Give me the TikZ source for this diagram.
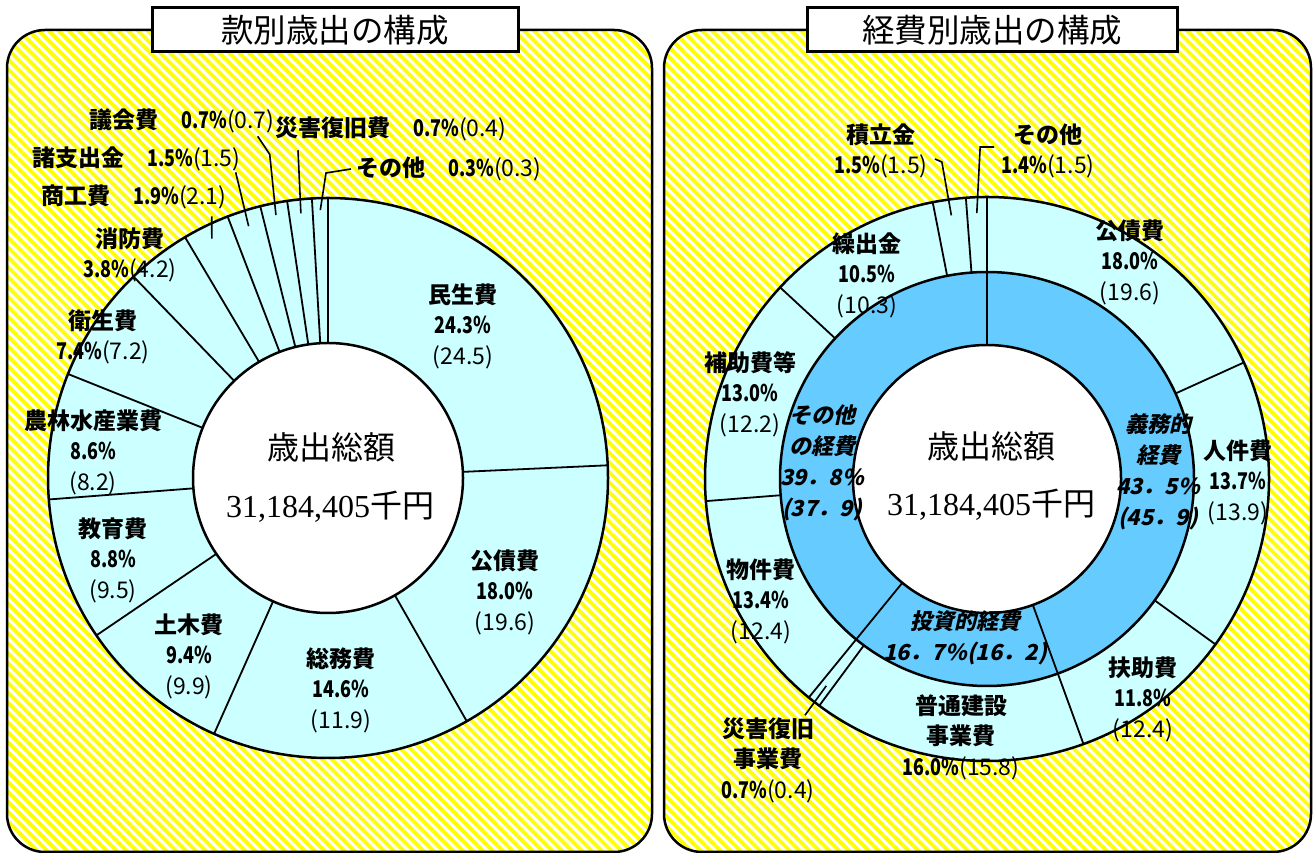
\documentclass[tikz,border=0pt]{standalone}
\usepackage{fontspec}
\usepackage{graphicx}
\setmainfont{Noto Sans CJK JP}
\newfontfamily\zahl{Liberation Serif}
\newfontfamily\schraeg{Noto Sans CJK JP}[FakeSlant=0.22]
\usetikzlibrary{calc,patterns.meta}
\definecolor{hellcyan}{RGB}{204,255,255}
\definecolor{mittelblau}{RGB}{102,204,255}
\definecolor{gelb}{RGB}{255,255,0}
% Anteil schmal, Vorjahreswert in Klammern
\newcommand{\pz}[1]{\scalebox{0.78}[1]{#1}}
\newcommand{\vj}[1]{{\mdseries(#1)}}

\begin{document}
\begin{tikzpicture}[x=1pt,y=1pt,
  rahmen/.style={line width=2.5, rounded corners=38},
  titel/.style={draw, fill=white, line width=3, minimum height=44, inner sep=0, font=\fontsize{32.5}{36}\selectfont},
  teil/.style={line width=1.8},
  kreis/.style={line width=2.5},
  leit/.style={line width=1.6},
  lbl/.style={align=center, inner sep=1, font=\fontsize{23}{30.5}\selectfont\bfseries},
  innen/.style={align=center, inner sep=1, font=\fontsize{22}{31}\selectfont\schraeg\bfseries},
  mitte/.style={inner sep=1, font=\fontsize{32}{36}\selectfont}]

\useasboundingbox (0,0) rectangle (1316,853);

% Felder mit Schraffur
\foreach \a/\b in {7/652,664/1311}{
  \fill[white, rounded corners=38] (\a,1) rectangle (\b,823);
  \fill[pattern={Lines[angle=-45,distance=7pt,line width=3.8pt]}, pattern color=gelb, rounded corners=38] (\a,1) rectangle (\b,823);
  \draw[rahmen] (\a,1) rectangle (\b,823);
}

% Ring links
\coordinate (L) at (328,375);
\fill[hellcyan] (L) circle[radius=280];
\foreach \w in {90,93.3,98.4,104,111,120.7,134,158.2,184.4,214.2,246,299.7,362.6}
  \draw[teil] ($(L)+(\w:135)$) -- ($(L)+(\w:280)$);
\draw[kreis, fill=white] (L) circle[radius=135];
\draw[kreis] (L) circle[radius=280];

% Ringe rechts
\coordinate (R) at (987,374);
\fill[hellcyan] (R) circle[radius=282];
\fill[mittelblau] (R) circle[radius=207];
\foreach \w in {90,24.4,-35.9,-70,-126.5,-129.2,-175.5,-222.8,-258.9,-265.7}
  \draw[teil] ($(R)+(\w:207)$) -- ($(R)+(\w:282)$);
\foreach \w in {90,-70,-129.2}
  \draw[teil] ($(R)+(\w:134)$) -- ($(R)+(\w:207)$);
\draw[kreis] (R) circle[radius=207];
\draw[kreis, fill=white] (R) circle[radius=134];
\draw[kreis] (R) circle[radius=282];

% Titel
\node[titel, minimum width=366] (titel-l) at (335,823) {款別歳出の構成};
\node[titel, minimum width=370] (titel-r) at (992,823) {経費別歳出の構成};

% Mitte
\node[mitte] (summe-l) at (331,406) {歳出総額};
\node[mitte] (betrag-l) at (330,346) {{\zahl 31,184,405}千円};
\node[mitte] (summe-r) at (991,407) {歳出総額};
\node[mitte] (betrag-r) at (991,348) {{\zahl 31,184,405}千円};

% Beschriftungen links
\node[lbl] (minsei) at (463,527) {民生費\\\pz{24.3\%}\\\vj{24.5}};
\node[lbl] (kosai) at (505,261) {公債費\\\pz{18.0\%}\\\vj{19.6}};
\node[lbl] (somu) at (341,163) {総務費\\\pz{14.6\%}\\\vj{11.9}};
\node[lbl] (doboku) at (189,197) {土木費\\\pz{9.4\%}\\\vj{9.9}};
\node[lbl] (kyoiku) at (113,293) {教育費\\\pz{8.8\%}\\\vj{9.5}};
\node[lbl] (norin) at (93,401) {農林水産業費\\\pz{8.6\%}\\\vj{8.2}};
\node[lbl] (eisei) at (103,516) {衛生費\\\pz{7.4\%}\vj{7.2}};
\node[lbl] (shobo) at (130,598) {消防費\\\pz{3.8\%}\vj{4.2}};
\node[lbl, anchor=west] (shoko) at (40,656) {商工費　\pz{1.9\%}\vj{2.1}};
\node[lbl, anchor=west] (shishutsu) at (31,694) {諸支出金　\pz{1.5\%}\vj{1.5}};
\node[lbl, anchor=west] (gikai) at (88,732) {議会費　\pz{0.7\%}\vj{0.7}};
\node[lbl, anchor=west] (saigai) at (274,724) {災害復旧費　\pz{0.7\%}\vj{0.4}};
\node[lbl, anchor=west] (sonota) at (355,684) {その他　\pz{0.3\%}\vj{0.3}};

% Fuehrungslinien links
\coordinate (shoko-e) at ($(L)+(115.9:266)$);
\coordinate (shishutsu-e) at ($(L)+(107.5:264)$);
\coordinate (gikai-e) at ($(L)+(101.2:268)$);
\coordinate (saigai-e) at ($(L)+(95.85:266)$);
\coordinate (sonota-e) at ($(L)+(91.65:268)$);
\draw[leit] ($(shoko.south east)+(-16,-6)$) -- (shoko-e);
\draw[leit] ($(shishutsu.south east)+(-6,0)$) -- (shishutsu-e);
\draw[leit] ($(gikai.south east)+(-18,-2)$) -- ++(12,-18) -- (gikai-e);
\draw[leit] ($(saigai.south west)+(24,-8)$) -- (saigai-e);
\draw[leit] ($(sonota.west)+(-4,0)$) -- ++(-25,-4) -- (sonota-e);

% Beschriftungen rechts
\node[lbl] (kosai2) at (1130,591) {公債費\\\pz{18.0\%}\\\vj{19.6}};
\node[lbl] (jinken) at (1238,371) {人件費\\\pz{13.7\%}\\\vj{13.9}};
\node[lbl] (fujo) at (1143,154) {扶助費\\\pz{11.8\%}\\\vj{12.4}};
\node[lbl] (futsu) at (961,116) {普通建設\\事業費\\\pz{16.0\%}\vj{15.8}};
\node[lbl] (saigai2) at (768,93) {災害復旧\\事業費\\\pz{0.7\%}\vj{0.4}};
\node[lbl] (bukken) at (761,252) {物件費\\\pz{13.4\%}\\\vj{12.4}};
\node[lbl] (hojo) at (750,459) {補助費等\\\pz{13.0\%}\\\vj{12.2}};
\node[lbl] (kuridashi) at (867,578) {繰出金\\\pz{10.5\%}\\\vj{10.3}};
\node[lbl] (tsumitate) at (881,702) {積立金\\\pz{1.5\%}\vj{1.5}};
\node[lbl] (sonota2) at (1048,702) {その他\\\pz{1.4\%}\vj{1.5}};

% innerer Ring
\node[innen] (sonstige) at (822,390) {その他\\の経費\\39．8\%\\(37．9)};
\node[innen] (pflicht) at (1158,381) {義務的\\経費\\43．5\%\\(45．9)};
\node[innen] (invest) at (965,215) {投資的経費\\16．7\%(16．2)};

% Fuehrungslinien rechts
\coordinate (tsumitate-e) at ($(R)+(97.7:266)$);
\coordinate (sonota2-e) at ($(R)+(92.2:266)$);
\coordinate (saigai2-e) at ($(R)+(-127.85:262)$);
\draw[leit] ($(tsumitate.east)+(6,-8)$) -- ++(7,-3) -- (tsumitate-e);
\draw[leit] ($(sonota2.west)+(-6,4)$) -- ++(-14,0) -- (sonota2-e);
\draw[leit] ($(saigai2.north)+(37,1)$) -- (saigai2-e);

\end{tikzpicture}
\end{document}
